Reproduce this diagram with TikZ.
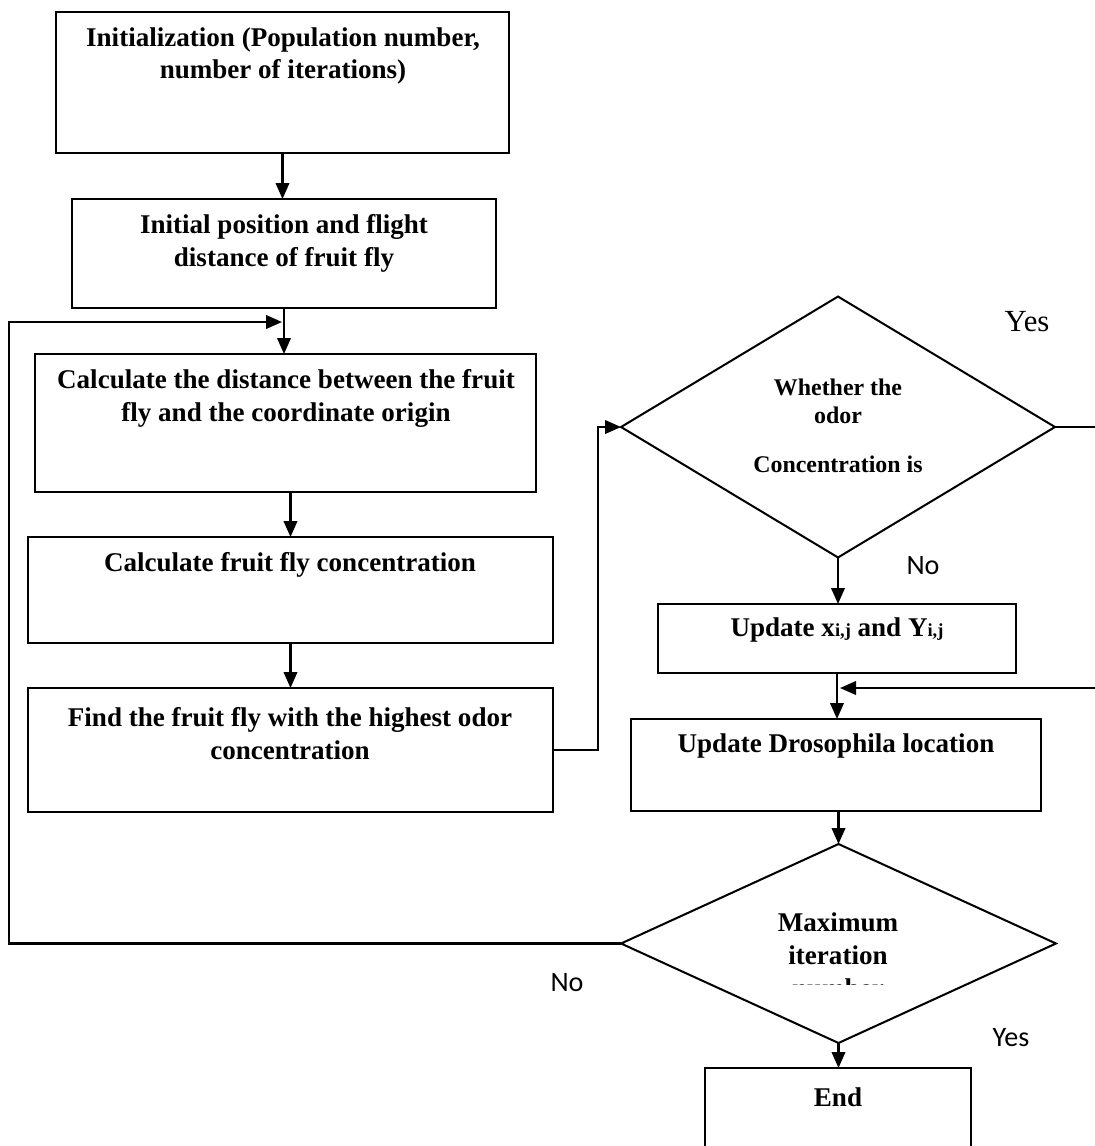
\documentclass[tikz,border=0pt]{standalone}
\usepackage{fontspec}
\setmainfont{Liberation Serif}
\newfontfamily\carl{Carlito}
\usetikzlibrary{shapes.geometric,arrows.meta}
\begin{document}
\begin{tikzpicture}[x=0.02cm,y=-0.02cm,
 box/.style={draw, line width=1.25pt, rectangle, inner sep=0, outer sep=0},
 dia/.style={draw, line width=1.15pt, diamond, inner sep=0, outer sep=0},
 txt/.style={font=\fontsize{15.4}{18.7}\selectfont\bfseries, align=center, inner sep=0},
 dtxt/.style={font=\fontsize{13.6}{15.9}\selectfont\bfseries, align=center, inner sep=0},
 conn/.style={line width=1.25pt},
 arr/.style={conn, -{Triangle[length=0.32cm,width=0.27cm]}},
 lab/.style={font=\carl\fontsize{16}{19}\selectfont, inner sep=0}]
\path[use as bounding box] (0,0) rectangle (1095,1146);
\clip (0,0) rectangle (1095,1146);
% boxes
\node[box, minimum width=9.06cm, minimum height=2.82cm] (b1) at (282.5,82.5) {};
\node[box, minimum width=8.48cm, minimum height=2.18cm] (b2) at (284,253.5) {};
\node[box, minimum width=10.02cm, minimum height=2.76cm] (b3) at (285.5,423) {};
\node[box, minimum width=10.5cm, minimum height=2.12cm] (b4) at (290.5,590) {};
\node[box, minimum width=10.5cm, minimum height=2.48cm] (b5) at (290.5,750) {};
\node[dia, minimum width=8.68cm, minimum height=5.22cm] (d1) at (838,427) {};
\node[box, minimum width=7.16cm, minimum height=1.38cm] (ux) at (837,638.5) {};
\node[box, minimum width=8.2cm, minimum height=1.84cm] (ud) at (836,765) {};
\node[dia, minimum width=8.7cm, minimum height=3.98cm] (d2) at (838.5,943.5) {};
\node[box, minimum width=5.32cm, minimum height=2cm] (end) at (838,1118) {};
% texts
\node[txt] (t1) at (283,56) {Initialization (Population number,\\number of iterations)};
\node[txt] (t2) at (284,243.5) {Initial position and flight\\distance of fruit fly};
\node[txt] (t3) at (286,398.5) {Calculate the distance between the fruit\\fly and the coordinate origin};
\node[txt] (t4) at (290,565) {Calculate fruit fly concentration};
\node[txt] (t5) at (290,733.5) {Find the fruit fly with the highest odor\\concentration};
\node[dtxt] (t6) at (838,401) {Whether the\\odor};
\node[dtxt] (t7) at (838,464) {Concentration is};
\node[txt] (t8) at (837,630) {Update x{\fontsize{10.5}{12}\selectfont i,j} and Y{\fontsize{10.5}{12}\selectfont i,j}};
\node[txt] (t9) at (836,746) {Update Drosophila location};
\node[txt] (t10) at (838,938.5) {Maximum\\iteration};
\begin{scope}
\clip (700,960) rectangle (980,984);
\node[txt] (t11) at (838,988) {number};
\end{scope}
\node[txt] (t12) at (838,1097) {End};
% labels
\node[lab] (no1) at (923,566) {No};
\node[font=\fontsize{17.5}{20}\selectfont, inner sep=0] (yes1) at (1027,322) {Yes};
\node[lab] (no2) at (567,983) {No};
\node[lab] (yes2) at (1011,1038) {Yes};
% connectors
\coordinate (j1) at (282,322);
\coordinate (j2) at (840,688);
\draw[arr] (b1.south) -- (b1.south |- b2.north);
\draw[arr] (b2.south) -- (b2.south |- b3.north);
\draw[arr] (b4.north |- b3.south) -- (b4.north);
\draw[arr] (b4.south) -- (b5.north);
\draw[arr] (b5.east) -- (598,750) -- (598,427) -- (d1.west);
\draw[arr] (d1.south) -- (d1.south |- ux.north);
\draw[arr] (d1.east) -- (1100,427) -- (1100,688) -- (j2);
\draw[arr] (ux.south) -- (ux.south |- ud.north);
\draw[arr] (d2.north |- ud.south) -- (d2.north);
\draw[arr] (d2.west) -- (9,943.5) -- (9,322) -- (j1);
\draw[arr] (d2.south) -- (d2.south |- end.north);
\end{tikzpicture}
\end{document}
